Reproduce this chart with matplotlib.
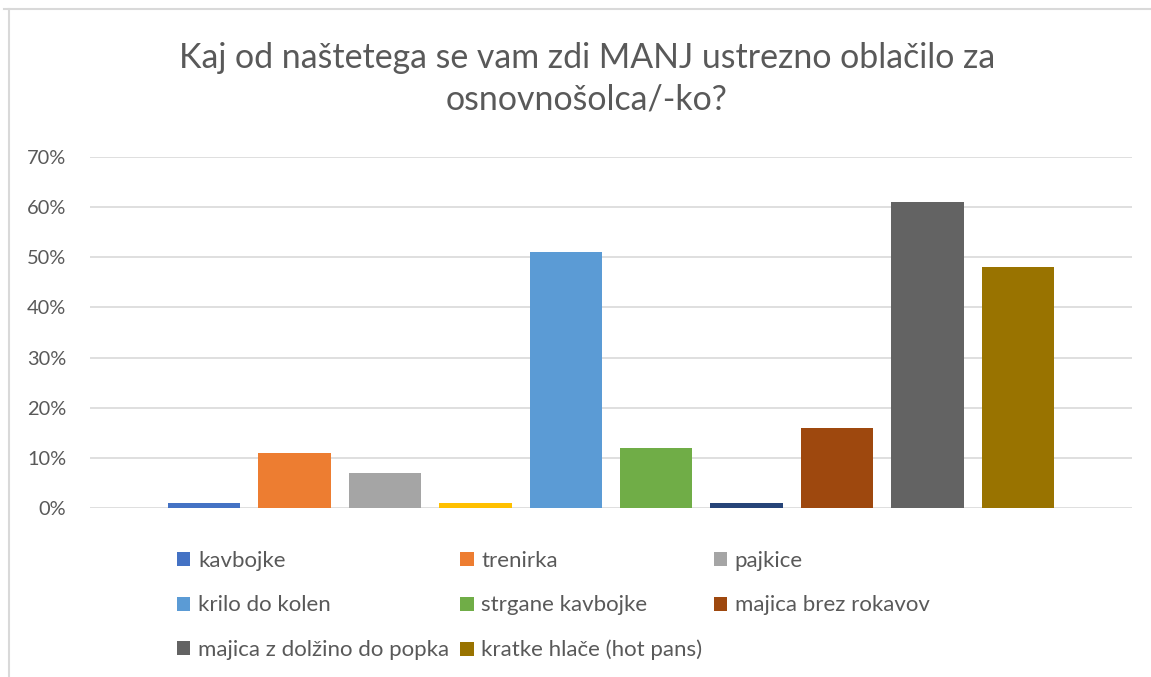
import matplotlib.pyplot as plt
from matplotlib.lines import Line2D
from matplotlib.ticker import PercentFormatter

plt.rcParams['font.family'] = ['Lato', 'DejaVu Sans']

# podatki
naslov = "Kaj od naštetega se vam zdi MANJ ustrezno oblačilo za\nosnovnošolca/-ko?"
serije = ["kavbojke", "trenirka", "pajkice", None, "krilo do kolen",
          "strgane kavbojke", None, "majica brez rokavov",
          "majica z dolžino do popka", "kratke hlače (hot pans)"]
vrednosti = [0.01, 0.11, 0.07, 0.01, 0.51, 0.12, 0.01, 0.16, 0.61, 0.48]
barve = ["#4472C4", "#ED7D31", "#A5A5A5", "#FFC000", "#5B9BD5",
         "#70AD47", "#264478", "#9E480E", "#636363", "#997300"]
y_ticks = [0, 0.1, 0.2, 0.3, 0.4, 0.5, 0.6, 0.7]

siva = "#595959"

fig = plt.figure(figsize=(11.51, 6.77), dpi=100)
ax = fig.add_axes([90 / 1151, (677 - 508) / 677, 1042 / 1151, 351 / 677])

stolpci = []
for i, (ime, v, c) in enumerate(zip(serije, vrednosti, barve)):
    s = ax.bar(i, v, width=0.8, color=c, label=ime if ime else '_nolegend_', zorder=3)
    stolpci.append(s)

ax.set_xlim(-1.26, 10.26)
ax.set_ylim(0, 0.7)
ax.set_yticks(y_ticks)
ax.yaxis.set_major_formatter(PercentFormatter(1.0, decimals=0))
ax.set_xticks([])
ax.grid(axis='y', color='#D9D9D9', linewidth=1.2, zorder=0)
for sp in ax.spines.values():
    sp.set_visible(False)
ax.tick_params(axis='y', length=0, pad=17, labelsize=14.4, labelcolor=siva)

fig.text(587 / 1151, 1 - 79 / 677, naslov, ha='center', va='center',
         fontsize=24.4, color=siva, linespacing=1.36)

# legenda - vrstice kot v Excelu
vrstni_red = [0, 4, 8, 1, 5, 9, 2, 7]
handles = [stolpci[i] for i in vrstni_red]
labels = [serije[i] for i in vrstni_red]
fig.legend(handles, labels, ncol=3, loc='upper left',
           bbox_to_anchor=(177 / 1151, 1 - 551 / 677), frameon=False,
           borderpad=0, borderaxespad=0,
           fontsize=16, labelcolor=siva, handlelength=0.6, handleheight=0.6,
           handletextpad=0.35, columnspacing=0.5, labelspacing=1.1)

# okvir grafa
fig.add_artist(Line2D([4 / 1151, 1], [1 - 9 / 677, 1 - 9 / 677], color='#D9D9D9', linewidth=1.5))
fig.add_artist(Line2D([9 / 1151, 9 / 1151], [0, 1 - 9 / 677], color='#D9D9D9', linewidth=1.5))

fig.savefig('out.png', dpi=100)
